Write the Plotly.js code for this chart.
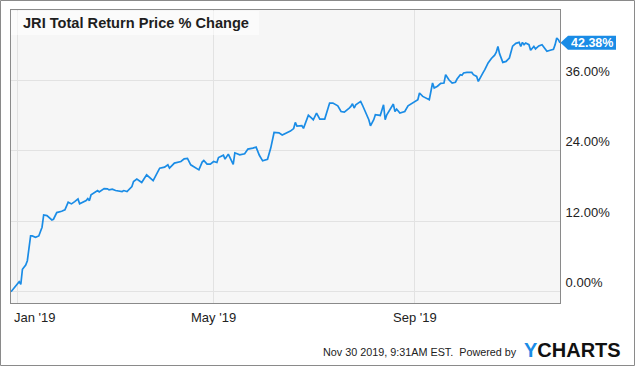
<!DOCTYPE html>
<html>
<head>
<meta charset="utf-8">
<script src="https://cdn.plot.ly/plotly-3.0.1.min.js"></script>
<style>
html,body{margin:0;padding:0;background:#fff;}
#chart{width:635px;height:366px;}
</style>
</head>
<body>
<div id="chart"></div>
<script>
const titleText = 'JRI Total Return Price % Change';
const dates = ['2018-12-28','2018-12-30','2019-01-01','2019-01-02','2019-01-03','2019-01-04','2019-01-06','2019-01-07','2019-01-09','2019-01-10','2019-01-12','2019-01-14','2019-01-16','2019-01-17','2019-01-19','2019-01-22','2019-01-23','2019-01-25','2019-01-28','2019-01-30',
'2019-02-01','2019-02-03','2019-02-05','2019-02-07','2019-02-08','2019-02-10','2019-02-12','2019-02-13','2019-02-14','2019-02-15','2019-02-18','2019-02-19','2019-02-20','2019-02-23','2019-02-25','2019-02-26','2019-02-28',
'2019-03-02','2019-03-06','2019-03-07','2019-03-09','2019-03-12','2019-03-13','2019-03-15','2019-03-18','2019-03-21','2019-03-25','2019-03-29',
'2019-04-01','2019-04-03','2019-04-04','2019-04-07','2019-04-11','2019-04-13','2019-04-15','2019-04-17','2019-04-22','2019-04-24','2019-04-25','2019-04-27','2019-04-29',
'2019-05-01','2019-05-03','2019-05-04','2019-05-07','2019-05-08','2019-05-10','2019-05-11','2019-05-13','2019-05-14','2019-05-17','2019-05-20','2019-05-22','2019-05-25','2019-05-27','2019-05-29','2019-05-31',
'2019-06-03','2019-06-05','2019-06-07','2019-06-10','2019-06-12','2019-06-14','2019-06-17','2019-06-19','2019-06-20','2019-06-21','2019-06-24','2019-06-25','2019-06-28','2019-06-30',
'2019-07-01','2019-07-03','2019-07-05','2019-07-08','2019-07-11','2019-07-13','2019-07-16','2019-07-18','2019-07-20','2019-07-23','2019-07-24','2019-07-25','2019-07-26','2019-07-27','2019-07-29','2019-07-30','2019-07-31',
'2019-08-02','2019-08-04','2019-08-05','2019-08-07','2019-08-08','2019-08-11','2019-08-13','2019-08-14','2019-08-15','2019-08-17','2019-08-19','2019-08-20','2019-08-21','2019-08-23','2019-08-26','2019-08-28','2019-08-31',
'2019-09-03','2019-09-04','2019-09-06','2019-09-10','2019-09-12','2019-09-13','2019-09-15','2019-09-17','2019-09-19','2019-09-20','2019-09-22','2019-09-24','2019-09-26','2019-09-27','2019-09-29','2019-09-30',
'2019-10-01','2019-10-03','2019-10-06','2019-10-07','2019-10-09','2019-10-10','2019-10-11','2019-10-13','2019-10-14','2019-10-16','2019-10-18','2019-10-20','2019-10-21','2019-10-22','2019-10-23','2019-10-24','2019-10-25','2019-10-27','2019-10-29','2019-10-31',
'2019-11-02','2019-11-04','2019-11-05','2019-11-06','2019-11-07','2019-11-08','2019-11-10','2019-11-11','2019-11-13','2019-11-14','2019-11-16','2019-11-18','2019-11-20','2019-11-21','2019-11-23','2019-11-25','2019-11-26','2019-11-27','2019-11-28','2019-11-29'];
const pctChange = [0.00,0.75,1.53,1.70,1.26,3.82,4.55,5.28,9.49,9.49,9.27,9.49,10.98,13.07,12.95,12.22,12.34,13.47,13.70,13.93,
15.24,14.95,15.34,15.80,14.95,15.24,15.51,15.85,15.51,16.48,16.99,17.22,16.99,17.56,17.51,17.33,17.45,
17.22,17.05,17.22,17.05,17.90,18.75,19.16,18.58,19.89,18.92,21.03,
21.20,21.60,21.03,21.89,22.16,22.62,22.70,21.60,20.74,22.06,22.33,21.72,21.72,
22.16,21.99,22.84,23.25,22.57,23.42,22.91,21.68,23.64,23.30,23.47,24.27,24.44,24.61,23.22,22.28,
22.53,24.49,27.10,27.05,26.68,26.95,27.34,27.77,28.81,28.19,28.28,27.80,30.03,29.56,
29.27,30.41,29.39,29.39,32.11,32.11,31.65,30.68,30.58,31.26,31.53,31.99,31.26,31.82,32.11,32.39,31.82,
30.68,29.27,28.24,29.27,30.12,30.00,31.82,29.27,30.12,31.09,31.94,30.68,31.09,30.41,30.68,31.65,32.22,
32.68,33.82,33.24,32.68,35.52,34.67,34.98,35.47,35.52,36.94,36.08,35.52,35.66,36.20,36.94,36.85,
37.23,37.33,37.33,36.94,36.65,35.79,36.37,37.33,37.79,38.93,39.70,40.26,40.77,41.76,40.52,39.78,39.03,39.20,39.78,41.80,
42.27,42.44,41.76,42.44,42.05,42.34,42.05,41.11,41.76,41.32,41.83,42.05,41.20,40.91,41.11,41.28,42.05,43.19,42.90,42.38];
const xTickVals = ['2019-01-01','2019-05-01','2019-09-01'];
const xTickText = ["Jan '19","May '19","Sep '19"];
const yTickVals = [0, 12, 24, 36];
const yTickText = ['0.00%', '12.00%', '24.00%', '36.00%'];
const footerText = 'Nov 30 2019, 9:31AM EST.\u00a0 Powered by';

const FONT = '"Liberation Sans", Arial, sans-serif';
const BLUE = '#1a8ce6';
const W = 635, H = 366;
const M = {l: 11, r: 75, t: 10, b: 63};
const PW = W - M.l - M.r, PH = H - M.t - M.b;
const yRange = [-1.92, 47.95];
const pxX = px => (px - M.l) / PW;          // page px -> paper x
const pxY = px => (H - M.b - px) / PH;      // page px -> paper y
const unitsPerPx = (yRange[1] - yRange[0]) / PH;

const lastVal = pctChange[pctChange.length - 1];
const halfH = 7 * unitsPerPx;
const tipX = pxX(560.5), boxL = pxX(568), boxR = pxX(616);
const labelPath = `M ${tipX} ${lastVal} L ${boxL} ${lastVal + halfH} L ${boxR} ${lastVal + halfH} L ${boxR} ${lastVal - halfH} L ${boxL} ${lastVal - halfH} Z`;

const xFirst = new Date(dates[0]).getTime();
const xAnn = xTickVals.map((d, i) => {
  const nearLeft = (new Date(d).getTime() - xFirst) < 10 * 86400000;
  return {
    x: d, xref: 'x', y: pxY(317), yref: 'paper',
    text: xTickText[i], showarrow: false,
    xanchor: nearLeft ? 'left' : 'center', xshift: nearLeft ? -6 : 0,
    yanchor: 'middle',
    font: {family: FONT, size: 13, color: '#222'}
  };
});

const trace = {
  x: dates, y: pctChange, type: 'scatter', mode: 'lines',
  line: {color: BLUE, width: 1.7},
  hoverinfo: 'skip'
};

const layout = {
  width: W, height: H,
  margin: M,
  paper_bgcolor: '#ffffff',
  plot_bgcolor: '#f6f6f6',
  showlegend: false,
  font: {family: FONT, color: '#222'},
  xaxis: {
    type: 'date',
    range: [dates[0], dates[dates.length - 1]],
    tickvals: xTickVals,
    showticklabels: false,
    ticks: '',
    showgrid: true, gridcolor: '#e2e2e2', gridwidth: 1,
    showline: true, linecolor: '#8a8a8a', linewidth: 1, mirror: true,
    zeroline: false, fixedrange: true
  },
  yaxis: {
    side: 'right',
    range: yRange,
    tickmode: 'array',
    tickvals: yTickVals,
    ticktext: yTickText,
    ticks: '', ticklabelposition: 'outside top',
    ticklabelstandoff: 2,
    tickfont: {family: FONT, size: 13, color: '#222'},
    showgrid: true, gridcolor: '#e2e2e2', gridwidth: 1,
    showline: true, linecolor: '#8a8a8a', linewidth: 1, mirror: true,
    zeroline: false, fixedrange: true
  },
  shapes: [
    {type: 'rect', xref: 'paper', yref: 'paper', x0: pxX(0.5), x1: pxX(634.5), y0: pxY(365.5), y1: pxY(0.5),
     line: {color: '#8a8a8a', width: 1}, fillcolor: 'rgba(0,0,0,0)', layer: 'above'},
    {type: 'rect', xref: 'paper', yref: 'paper', x0: pxX(11), x1: pxX(259), y0: pxY(35), y1: pxY(11),
     line: {width: 0}, fillcolor: 'rgba(255,255,255,0.55)', layer: 'above'},
    {type: 'path', xref: 'paper', yref: 'y', path: labelPath, fillcolor: BLUE, line: {width: 0}, layer: 'above'}
  ],
  annotations: [
    {x: pxX(21), y: pxY(23), xref: 'paper', yref: 'paper', xanchor: 'left', yanchor: 'middle',
     text: '<b>' + titleText + '</b>', showarrow: false, font: {family: FONT, size: 14.6, color: '#1e1e1e'}},
    {x: (boxL + boxR) / 2, y: lastVal, xref: 'paper', yref: 'y', xanchor: 'center', yanchor: 'middle',
     text: '<b>' + lastVal.toFixed(2) + '%</b>', showarrow: false, font: {family: FONT, size: 12.5, color: '#ffffff'}},
    {x: pxX(519), y: pxY(352), xref: 'paper', yref: 'paper', xanchor: 'right', yanchor: 'middle',
     text: footerText, showarrow: false, font: {family: FONT, size: 10.8, color: '#222'}},
    {x: pxX(522), y: pxY(350), xref: 'paper', yref: 'paper', xanchor: 'left', yanchor: 'middle',
     text: '<b><span style="color:' + BLUE + '">Y</span>CHARTS</b>', showarrow: false,
     font: {family: FONT, size: 20, color: '#111'}}
  ].concat(xAnn)
};

Plotly.newPlot('chart', [trace], layout, {displayModeBar: false, staticPlot: true});
</script>
</body>
</html>
